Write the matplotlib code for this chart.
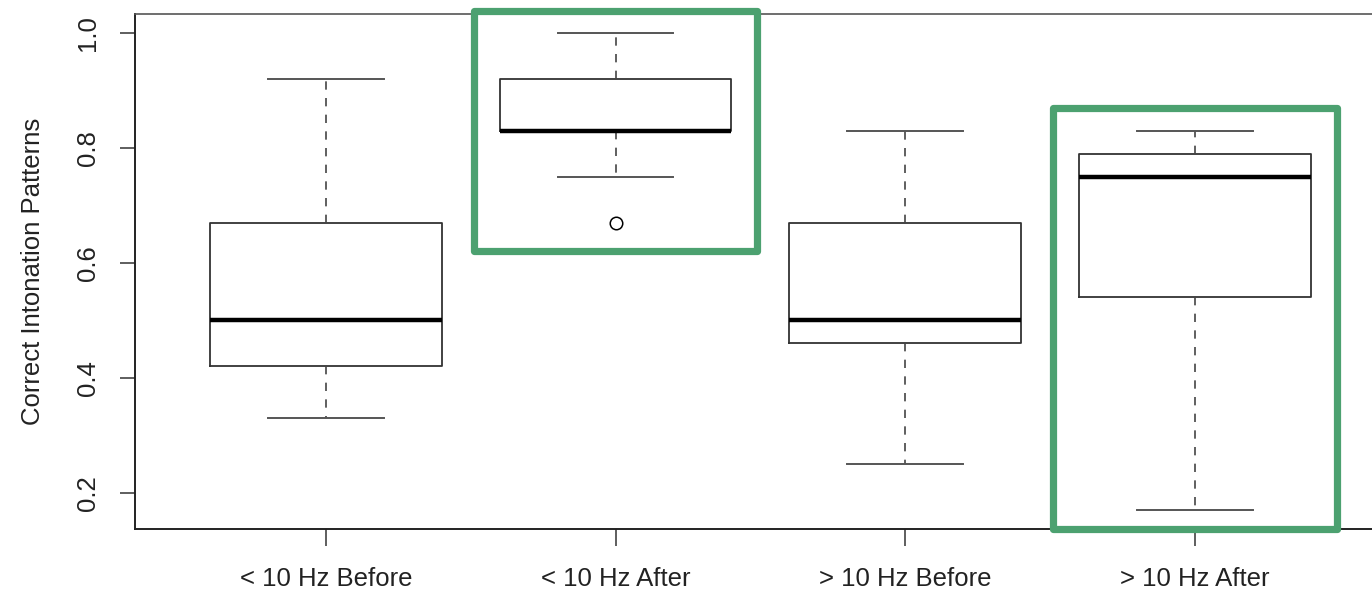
import matplotlib
matplotlib.use("agg")
import matplotlib.pyplot as plt
from matplotlib.patches import Rectangle

# five-number summaries per group
groups = ["< 10 Hz Before", "< 10 Hz After", "> 10 Hz Before", "> 10 Hz After"]
whis_lo = [0.33, 0.75, 0.25, 0.17]
q1 = [0.42, 0.83, 0.46, 0.54]
medians = [0.50, 0.83, 0.50, 0.75]
q3 = [0.67, 0.92, 0.67, 0.79]
whis_hi = [0.92, 1.00, 0.83, 0.83]
outliers = [[], [0.67], [], []]

# groups picked out with a green frame: (position, bottom, top)
highlight = [(2, 0.62, 1.038), (4, 0.137, 0.869)]

plt.rcParams["font.family"] = ["Liberation Sans", "DejaVu Sans"]

fig = plt.figure(figsize=(13.72, 5.9), dpi=100)
ax = fig.add_axes([0.0982, 0.1029, 0.912, 0.874])

stats = []
for i, name in enumerate(groups):
    stats.append(dict(label=name, whislo=whis_lo[i], q1=q1[i], med=medians[i],
                      q3=q3[i], whishi=whis_hi[i], fliers=outliers[i]))

pos = list(range(1, len(groups) + 1))
ax.bxp(stats, positions=pos, widths=0.8, capwidths=0.4, showfliers=True,
       boxprops=dict(color="#333333", linewidth=1.3),
       medianprops=dict(color="black", linewidth=3.2, solid_capstyle="butt"),
       whiskerprops=dict(color="#444444", linewidth=1.2, linestyle=(0, (5, 5))),
       capprops=dict(color="#555555", linewidth=1.4),
       flierprops=dict(marker="o", markersize=9, markerfacecolor="none",
                       markeredgecolor="black", markeredgewidth=1.1))

ax.set_xlim(0.34, 4.66)
ax.set_ylim(0.1368, 1.0332)
ax.set_yticks([0.2, 0.4, 0.6, 0.8, 1.0])
ax.set_yticklabels(["0.2", "0.4", "0.6", "0.8", "1.0"], rotation=90, va="center")
ax.set_xticks(pos)
ax.set_xticklabels(groups)
ax.tick_params(axis="y", length=11, width=1.1, color="#333333", pad=14, labelsize=18.5,
               labelcolor="#222222")
ax.tick_params(axis="x", length=12, width=1.1, color="#333333", pad=15, labelsize=18.5,
               labelcolor="#222222")
ax.set_ylabel("Correct Intonation Patterns", fontsize=18.5, color="#222222", labelpad=22)

for s in ["left", "bottom"]:
    ax.spines[s].set_color("#222222")
    ax.spines[s].set_linewidth(1.4)
for s in ["top", "right"]:
    ax.spines[s].set_color("#555555")
    ax.spines[s].set_linewidth(1.2)

for p, lo, hi in highlight:
    ax.add_patch(Rectangle((p - 0.49, lo), 0.98, hi - lo, fill=False,
                           edgecolor="#4ca170", linewidth=5.2, joinstyle="round",
                           clip_on=False, zorder=5))

fig.savefig("out.png", dpi=100, facecolor="white")
